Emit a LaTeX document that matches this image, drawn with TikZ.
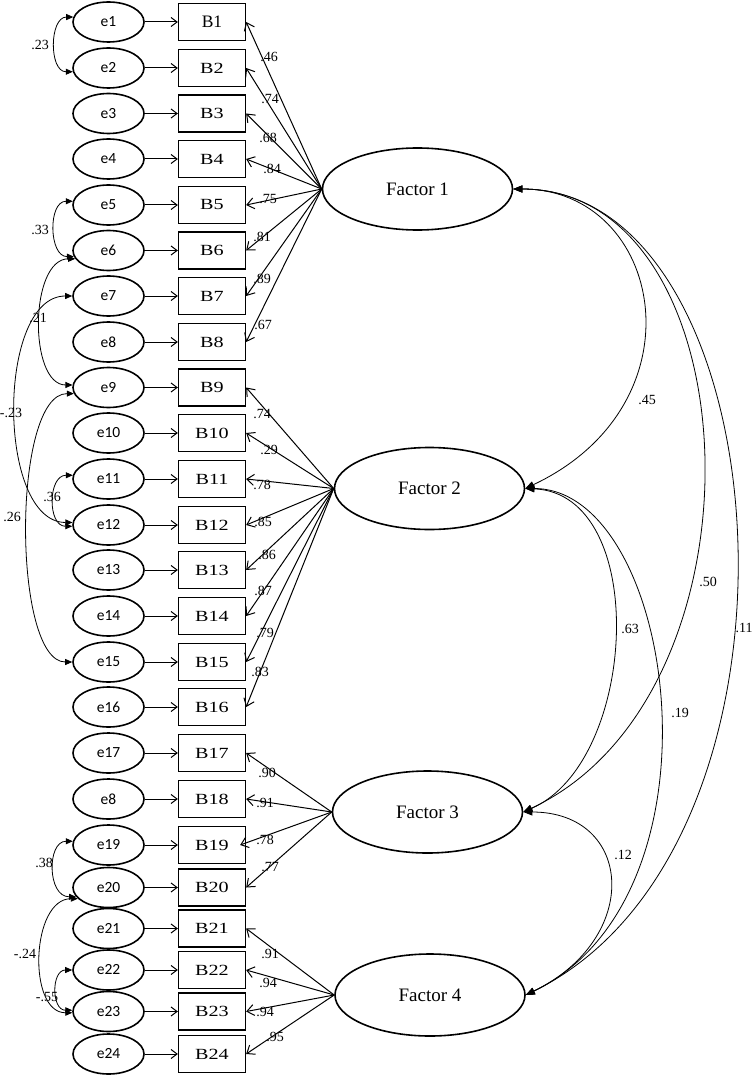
\documentclass[tikz,border=0pt]{standalone}
\usepackage{fontspec}
\usepackage{graphicx}
\setmainfont{Liberation Serif}
\newfontfamily\errfont{Carlito}
\usetikzlibrary{shapes.geometric,arrows.meta}
\newcommand{\bx}[1]{\scalebox{1.3}[1]{#1}}
\begin{document}
\begin{tikzpicture}[x=1pt,y=-1pt,
  errnode/.style={ellipse, draw, line width=1.6pt, minimum width=71pt, minimum height=40pt, inner sep=0pt, font=\errfont\fontsize{15.5}{17}\selectfont},
  obsnode/.style={rectangle, draw, line width=1.3pt, minimum width=67pt, minimum height=37pt, inner sep=0pt, font=\fontsize{15.5}{17}\selectfont},
  facnode/.style={ellipse, draw, line width=1.6pt, minimum width=190pt, minimum height=82pt, inner sep=0pt, font=\fontsize{19}{21}\selectfont},
  loadarr/.style={-{Straight Barb[length=7pt,width=11pt]}, line width=1pt},
  errarr/.style={-{Straight Barb[length=6pt,width=9pt]}, line width=1pt},
  lcov/.style={{Triangle[length=7pt,width=6pt]}-{Triangle[length=7pt,width=6pt]}, line width=0.8pt},
  fcov/.style={{Triangle[length=9pt,width=7pt]}-{Triangle[length=9pt,width=7pt]}, line width=0.8pt},
  num/.style={font=\fontsize{14}{16}\selectfont, inner sep=0pt},
]
\useasboundingbox (0,0) rectangle (753,1075);

% error terms and observed variables
\foreach \i/\y/\t in {1/22/e1, 2/68/e2, 3/113.5/e3, 4/159/e4, 5/205/e5, 6/250.5/e6,
  7/296/e7, 8/342/e8, 9/387.5/e9, 10/433/e10, 11/479/e11, 12/525/e12,
  13/570/e13, 14/616/e14, 15/662/e15, 16/707/e16, 17/753/e17, 18/799/e8,
  19/845/e19, 20/887.5/e20, 21/928.5/e21, 22/970/e22, 23/1011.5/e23, 24/1054/e24} {
  \node[errnode] (e\i) at (108.5,\y) {\t};
  \node[obsnode] (b\i) at (212,\y) {\ifnum\i=1 {\fontsize{17.5}{19}\selectfont B1}\else\bx{B\i}\fi};
  \draw[errarr] (e\i) -- (b\i);
}

% factors
\node[facnode] (F1) at (417.5,189) {Factor 1};
\node[facnode] (F2) at (429.5,488.5) {Factor 2};
\node[facnode] (F3) at (427.5,812) {Factor 3};
\node[facnode] (F4) at (430,995) {Factor 4};

% loadings
\foreach \i in {1,...,8} \draw[loadarr] (F1.west) -- (b\i.east);
\foreach \i in {9,...,16} \draw[loadarr] (F2.west) -- (b\i.east);
\foreach \i in {17,18,20} \draw[loadarr] (F3.west) -- (b\i.east);
\draw[loadarr] (F3.west) -- ([xshift=-6pt]b19.east);
\foreach \i in {21,...,24} \draw[loadarr] (F4.west) -- (b\i.east);

% loading labels
\foreach \i/\x/\y/\v in {1/269/57/.46, 2/270/99/.74, 3/268/138/.68, 4/272/169/.84,
  5/268/199/.75, 6/262/237/.81, 7/262/279/.89, 8/263/325/.67,
  9/262/414/.74, 10/269/450/.29, 11/262/485/.78, 12/263/522/.85,
  13/267/555/.86, 14/263/591/.87, 15/265/633/.79, 16/260/672/.83,
  17/267/773/.90, 18/265/803/.91, 19/265/840/.78, 20/270/867/.77,
  21/270/954/.91, 22/268/983/.94, 23/265/1012/.94, 24/275/1037/.95} {
  \node[num] (l\i) at (\x,\y) {\v};
}

% error covariances
\draw[lcov] (e1.172) .. controls +(-24,0) and +(-24,0) .. (e2.186);
\draw[lcov] (e5.174) .. controls +(-25,0) and +(-25,0) .. (e6.190);
\draw[lcov] (e6.194) .. controls +(-46,0) and +(-44,0) .. (e9.176);
\draw[lcov] (e7.180) .. controls +(-76,0) and +(-76,0) .. (e12.176);
\draw[lcov] (e9.190) .. controls +(-62,0) and +(-60,0) .. (e15.180);
\draw[lcov] (e11.174) .. controls +(-25,0) and +(-25,0) .. (e12.182);
\draw[lcov] (e19.174) .. controls +(-26,0) and +(-29,0) .. (e20.196);
\draw[lcov] (e20.200) .. controls +(-47,0) and +(-45,0) .. (e23.182);
\draw[lcov] (e22.180) .. controls +(-21,0) and +(-21,0) .. (e23.178);

\node[num] (c1) at (40,45) {.23};
\node[num] (c2) at (40,230) {.33};
\node[num] (c3) at (38,318) {.21};
\node[num] (c4) at (11,413) {-.23};
\node[num] (c5) at (52,497) {.36};
\node[num] (c6) at (12,517) {.26};
\node[num] (c7) at (44,863) {.38};
\node[num] (c8) at (25,954) {-.24};
\node[num] (c9) at (47,997) {-.55};

% factor covariances
\draw[fcov] (F1.east) .. controls +(150,0) and +(180,-85) .. (F2.east);
\draw[fcov] (F1.east) .. controls +(240,0) and +(252,-118) .. (F3.east);
\draw[fcov] (F1.east) .. controls +(270,0) and +(306,-150) .. (F4.east);
\draw[fcov] (F2.east) .. controls +(125,5) and +(115,-50) .. (F3.east);
\draw[fcov] (F2.east) .. controls +(150,0) and +(207,-100) .. (F4.east);
\draw[fcov] (F3.east) .. controls +(110,0) and +(117,-57) .. (F4.east);

\node[num] (f12) at (647,400) {.45};
\node[num] (f13) at (708,582) {.50};
\node[num] (f14) at (744,628) {.11};
\node[num] (f23) at (630,629) {.63};
\node[num] (f24) at (680,713) {.19};
\node[num] (f34) at (623,855) {.12};
\end{tikzpicture}
\end{document}
